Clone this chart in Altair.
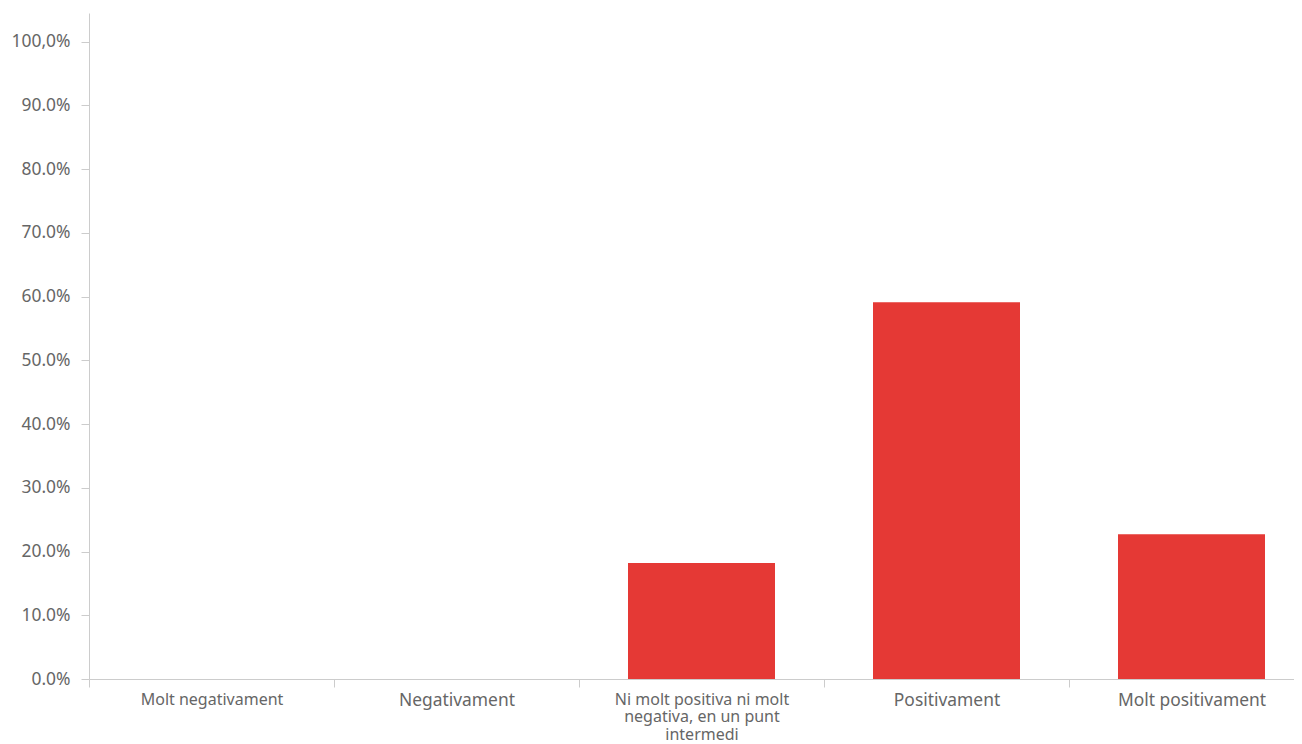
import altair as alt
import pandas as pd

categories = [
    "Molt negativament",
    "Negativament",
    "Ni molt positiva ni molt negativa, en un punt intermedi",
    "Positivament",
    "Molt positivament",
]
values = [0.0, 0.0, 18.2, 59.1, 22.7]

wrapped_label = ["Ni molt positiva ni molt", "negativa, en un punt", "intermedi"]
small_labels = ["Molt negativament", categories[2]]

y_tick_values = [0, 10, 20, 30, 40, 50, 60, 70, 80, 90, 100]
y_tick_labels = ["0.0%", "10.0%", "20.0%", "30.0%", "40.0%", "50.0%",
                 "60.0%", "70.0%", "80.0%", "90.0%", "100,0%"]

df = pd.DataFrame({"cat": categories, "val": values})

y_label_expr = " : ".join(
    f"datum.value == {v} ? '{l}'" for v, l in zip(y_tick_values, y_tick_labels)
) + " : ''"

wrap_js = "[" + ", ".join(f"'{s}'" for s in wrapped_label) + "]"
x_label_expr = f"datum.value == '{categories[2]}' ? {wrap_js} : datum.value"
small_test = " || ".join(f"datum.value == '{s}'" for s in small_labels)

font = "Noto Sans"

chart = alt.Chart(df).mark_bar(
    color="#e53935", width=alt.RelativeBandSize(0.6)
).encode(
    x=alt.X(
        "cat:N",
        sort=categories,
        scale=alt.Scale(range=[0, 1225], paddingInner=0, paddingOuter=0),
        axis=alt.Axis(
            title=None,
            labelAngle=0,
            tickBand="extent",
            labelExpr=x_label_expr,
            labelFont=font,
            labelFontSize={"condition": {"test": small_test, "value": 16}, "value": 17.4},
            labelColor="#666666",
            labelLimit=0,
            labelLineHeight=17.5,
            labelPadding=4,
            tickSize=8,
            tickColor="#cccccc",
            domainColor="#cccccc",
            grid=False,
        ),
    ),
    y=alt.Y(
        "val:Q",
        scale=alt.Scale(domain=[0, 104.5], nice=False, zero=True),
        axis=alt.Axis(
            title=None,
            values=y_tick_values,
            labelExpr=y_label_expr,
            labelFont=font,
            labelFontSize=17.4,
            labelColor="#666666",
            labelPadding=11,
            tickSize=8,
            tickColor="#cccccc",
            domainColor="#cccccc",
            grid=False,
        ),
    ),
).properties(
    width=1205,
    height=666,
    autosize=alt.AutoSizeParams(type="none"),
    padding={"left": 81, "top": 5, "right": 0, "bottom": 64},
).configure_view(stroke=None)

chart.save("out.html", embed_options={"renderer": "svg", "actions": False})
